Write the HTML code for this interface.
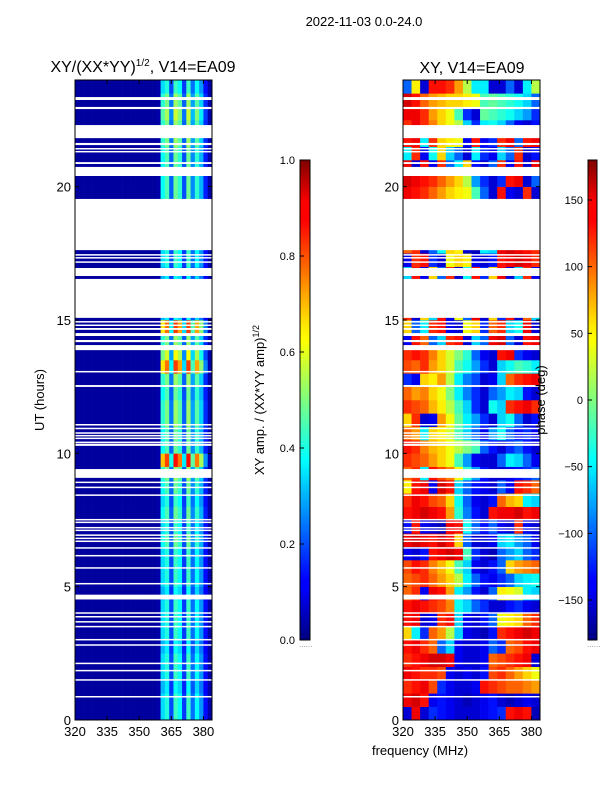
<!DOCTYPE html>
<html><head><meta charset="utf-8"><style>
html,body{margin:0;padding:0;background:#fff}
svg{display:block;font-family:"Liberation Sans",sans-serif}
</style></head><body>
<svg id="fig" width="600" height="800" viewBox="0 0 600 800">
<defs>
<linearGradient id="jet" x1="0" y1="1" x2="0" y2="0">
<stop offset="0" stop-color="#00007f"/><stop offset="0.11" stop-color="#0000ff"/><stop offset="0.125" stop-color="#0000ff"/>
<stop offset="0.34" stop-color="#00dbff"/><stop offset="0.375" stop-color="#00ffff"/><stop offset="0.5" stop-color="#7fff7f"/>
<stop offset="0.625" stop-color="#ffff00"/><stop offset="0.66" stop-color="#ffe500"/><stop offset="0.875" stop-color="#ff0000"/>
<stop offset="0.91" stop-color="#ff0000"/><stop offset="1" stop-color="#7f0000"/></linearGradient>
</defs>
<text x="364" y="26" font-size="13" text-anchor="middle">2022-11-03 0.0-24.0</text>
<text x="143" y="72" font-size="16" text-anchor="middle">XY/(XX*YY)<tspan font-size="10" dy="-6">1/2</tspan><tspan dy="6">, V14=EA09</tspan></text>
<text x="472" y="73" font-size="16" text-anchor="middle">XY, V14=EA09</text>
<g id="leftCells"></g>
<g id="rightCells"></g>
<g id="flags"></g>
<g id="axes"></g>
<rect x="300" y="160" width="10" height="480" fill="url(#jet)" stroke="#000" stroke-width="1"/>
<rect x="588" y="160" width="9" height="480" fill="url(#jet)" stroke="#000" stroke-width="1"/>
<g id="cbticks" font-size="11"></g>
<text x="299" y="647" font-size="8" fill="#888">......</text>
<text x="587" y="647" font-size="8" fill="#888">......</text>
<text transform="translate(264,400) rotate(-90)" font-size="13" text-anchor="middle">XY amp. / (XX*YY amp)<tspan font-size="9" dy="-5">1/2</tspan></text>
<text transform="translate(545,400) rotate(-90)" font-size="13" text-anchor="middle">phase (deg)</text>
<text transform="translate(44,400) rotate(-90)" font-size="13" text-anchor="middle">UT (hours)</text>
<text x="420" y="755" font-size="13" text-anchor="middle">frequency (MHz)</text>
</svg>
<script>
const freqMin=320, freqMax=384, hourMin=0, hourMax=24;
const xTicks=[320,335,350,365,380];
const yTicks=[0,5,10,15,20];
const ampTicks=[0.0,0.2,0.4,0.6,0.8,1.0];
const phaseTicks=[-150,-100,-50,0,50,100,150];
const ampChanShape=[0.03,0.03,0.03,0.03,0.03,0.03,0.03,0.03,0.03,0.03,0.03,0.03,0.03,0.03,0.03,0.03,0.03,0.03,0.03,0.04,0.38,0.45,0.22,0.48,0.42,0.2,0.48,0.26,0.42,0.3,0.15,0.04];
const ampRowLevel=[0.9,0.9,0.8,0.9,0.9,0.8,0.9,0.9,0.9,0.8,0.9,0.9,0.9,1.0,0.9,1.0,0.9,1.0,1.1,1.8,1.0,1.0,1.1,1.1,1.0,1.1,1.7,1.3,1.1,1.7,0.8,0.8,0.8,0.8,0.9,0.9,0.8,0.8,0.8,1.0,1.0,1.0,1.0,1.1,1.1,1.2,1.1,0.9];
const phaseRows=[
[-150,140,-150,-120,-130,-140,-150,-150,-150,-140,-130,-120,130,140,130,-160],
[140,150,130,-140,-130,-140,-150,-160,-150,-140,-130,-150,-160,-150,-140,-150],
[120,130,140,110,-120,-140,-150,-150,-140,130,120,110,100,100,90,80],
[140,130,120,120,110,-140,-150,-140,-150,-130,110,120,100,80,60,40],
[120,130,140,150,150,140,-140,-150,-150,-140,100,110,120,130,140,-150],
[130,140,120,100,-100,-60,-140,-150,-150,-140,-100,-120,100,110,130,140],
[60,-50,-120,100,80,20,-60,-140,-150,-160,-130,120,130,140,150,140],
[130,140,-150,-140,120,130,-60,-140,-150,-130,-100,40,50,60,100,120],
[130,140,130,120,110,90,-40,-60,-100,-120,-150,-150,-130,-120,-140,-150],
[100,120,-140,140,130,80,-50,-80,-130,-150,-100,50,40,30,-50,-60],
[100,110,120,100,80,60,20,-50,-100,-130,-140,-120,-100,-60,-50,-40],
[110,130,120,90,70,40,-20,-60,-140,-150,-130,-100,60,80,90,100],
[-140,-150,-130,130,140,150,140,-20,-120,-150,-160,-100,-80,-60,-100,-120],
[140,150,140,130,150,130,60,-100,-150,-150,-140,-60,-50,-80,-100,-140],
[-130,130,-140,-150,-160,140,130,-40,-100,-130,-100,-140,-150,120,-140,-150],
[130,140,150,140,130,80,-30,-90,-130,-150,130,140,140,150,130,140],
[120,140,130,110,100,60,-40,-100,-140,-150,-130,100,70,60,-50,-60],
[50,130,140,-140,150,130,-60,-100,-130,-140,-150,-100,-140,130,120,100],
[100,120,-50,130,110,90,40,-30,-80,-130,-150,-150,-140,-130,-120,-100],
[120,110,100,80,60,40,-20,-80,-140,-150,-150,-100,-50,-60,-100,-140],
[130,120,90,70,60,40,20,0,-20,-100,-130,-150,-120,-100,-130,-150],
[100,80,-50,60,50,30,-20,-60,-100,-140,-80,-40,-100,-130,-120,-140],
[60,120,-150,-140,80,40,-10,-50,-80,-120,-150,-60,-40,-100,-150,-130],
[120,110,100,70,50,20,-20,-60,-120,-150,-40,-60,120,130,140,120],
[100,80,90,60,40,0,-50,-90,-120,-150,-100,-80,-50,-60,-130,-150],
[-120,-140,60,50,80,20,-50,-90,-110,-150,-140,-60,100,120,130,140],
[110,100,120,80,60,30,-20,-40,-80,-120,-150,-60,-40,-20,-30,-50],
[120,130,120,90,60,30,0,-30,-100,-140,-150,130,140,-120,-140,-150],
[-140,130,100,-100,-60,120,130,-150,-60,-100,140,150,-100,-150,130,140],
[60,-100,-50,120,130,-140,-150,40,60,-120,100,120,-60,-40,140,-150],
[120,-150,60,-60,130,-140,40,-100,140,-150,60,-120,130,-150,100,-60],
[120,-150,60,-60,130,-140,40,-100,140,-150,60,-120,130,-150,100,-60],
[120,-150,60,-60,130,-140,40,-100,140,-150,60,-120,130,-150,100,-60],
[-60,130,-140,60,-100,120,-150,-40,130,-120,60,140,-150,-60,120,-140],
[-140,120,130,-120,-150,40,60,50,-140,-150,-130,130,140,150,140,120],
[100,120,-150,-100,-40,60,50,-150,-160,-50,-60,140,150,140,130,120],
[100,100,100,100,100,100,100,100,100,100,100,100,100,100,100,100],
[100,100,100,100,100,100,100,100,100,100,100,100,100,100,100,100],
[100,100,100,100,100,100,100,100,100,100,100,100,100,100,100,100],
[140,130,120,100,80,60,50,40,-20,-100,-150,130,-140,-150,120,-150],
[150,140,130,120,100,80,60,20,-80,-120,-150,-120,130,140,-150,-100],
[140,-150,130,-140,120,-100,-50,60,-130,-150,-100,120,-140,130,-150,140],
[-50,120,-140,-40,60,-60,-100,-150,-50,-120,-140,-60,-100,120,-150,-130],
[130,140,-50,120,60,50,40,-140,130,-140,-120,120,140,-100,130,140],
[120,140,120,90,60,40,20,-60,-120,-50,-40,-60,-100,-140,-150,-130],
[140,140,120,80,60,40,-20,-120,-150,-10,-20,-30,-40,-60,-80,-120],
[150,130,100,80,70,60,60,50,40,-20,-10,-20,-30,-40,-60,-100],
[-100,50,-150,130,130,120,80,20,-50,-50,-150,-150,-100,-150,-50,20]];
const flaggedHours=[[23.25,23.36],[22.91,22.99],[21.82,22.31],[21.56,21.64],[21.41,21.45],[21.30,21.34],[20.85,20.92],[20.40,20.74],[17.62,19.54],[17.44,17.47],[17.32,17.36],[17.16,17.20],[16.65,16.95],[15.08,16.54],[14.93,14.96],[14.80,14.83],[14.63,14.70],[14.40,14.51],[14.17,14.25],[13.87,14.06],[13.05,13.09],[12.49,12.56],[11.07,11.1],[10.92,10.96],[10.75,10.79],[10.65,10.69],[10.55,10.59],[10.39,10.44],[10.28,10.36],[9.08,9.41],[8.9,8.94],[8.7,8.75],[8.42,8.46],[7.5,7.54],[7.4,7.44],[7.2,7.24],[7.1,7.14],[6.92,6.96],[6.8,6.84],[6.7,6.73],[6.45,6.48],[6.15,6.19],[5.7,5.73],[5.1,5.14],[4.52,4.7],[4.0,4.04],[3.86,3.9],[3.68,3.71],[3.5,3.53],[3.0,3.04],[2.8,2.84],[2.12,2.15],[1.85,1.88],[1.5,1.53],[0.86,0.9]];

const NS="http://www.w3.org/2000/svg";
const L={x0:75,x1:212}, R={x0:403,x1:540}, Y0=720, Y1=80;
function xS(p,f){return p.x0+(f-freqMin)/(freqMax-freqMin)*(p.x1-p.x0);}
function yS(h){return Y0-(h-hourMin)/(hourMax-hourMin)*(Y0-Y1);}
function jet(v){v=Math.max(0,Math.min(1,v));
 const r=Math.max(0,Math.min(1,1.5-Math.abs(4*v-3))),g=Math.max(0,Math.min(1,1.5-Math.abs(4*v-2))),b=Math.max(0,Math.min(1,1.5-Math.abs(4*v-1)));
 return `rgb(${Math.round(r*255)},${Math.round(g*255)},${Math.round(b*255)})`;}
function mk(tag,attrs,parent){const e=document.createElementNS(NS,tag);for(const k in attrs)e.setAttribute(k,attrs[k]);parent.appendChild(e);return e;}
const lc=document.getElementById('leftCells'), rc=document.getElementById('rightCells');
const nRows=ampRowLevel.length, rowH=(hourMax-hourMin)/nRows;
const lw=(freqMax-freqMin)/ampChanShape.length;
for(let i=0;i<nRows;i++){
 for(let j=0;j<ampChanShape.length;j++){
  const s=ampChanShape[j]; const v=s<0.1?s:Math.min(1,s*ampRowLevel[i]);
  const x=xS(L,freqMin+j*lw), x2=xS(L,freqMin+(j+1)*lw);
  const r=mk('rect',{x:x,y:yS((i+1)*rowH),width:x2-x+0.3,height:yS(i*rowH)-yS((i+1)*rowH)+0.3,fill:jet(v)},lc);
  
  
 }
}
const pc=phaseRows[0].length, pw=(freqMax-freqMin)/pc, pRowH=(hourMax-hourMin)/phaseRows.length;
phaseRows.forEach((row,i)=>{row.forEach((v,j)=>{
  const x=xS(R,freqMin+j*pw), x2=xS(R,freqMin+(j+1)*pw);
  const r=mk('rect',{x:x,y:yS((i+1)*pRowH),width:x2-x+0.3,height:yS(i*pRowH)-yS((i+1)*pRowH)+0.3,fill:jet((v+180)/360)},rc);
  
  
});});
const fl=document.getElementById('flags');
flaggedHours.forEach(([a,b])=>{[L,R].forEach(p=>{
  const r=mk('rect',{x:p.x0,y:yS(b),width:p.x1-p.x0,height:Math.max(1.5,yS(a)-yS(b)),fill:'#fff'},fl);
  
  
});});
const ax=document.getElementById('axes');
[L,R].forEach((p,k)=>{
 const f=mk('rect',{x:p.x0,y:Y1,width:p.x1-p.x0,height:Y0-Y1,fill:'none',stroke:'#000','stroke-width':1},ax);
 
 
 xTicks.forEach(t=>{const x=xS(p,t);
  mk('line',{x1:x,x2:x,y1:Y0,y2:Y0-4,stroke:'#000'},ax);mk('line',{x1:x,x2:x,y1:Y1,y2:Y1+4,stroke:'#000'},ax);
  const tx=mk('text',{x:x,y:Y0+16,'font-size':13,'text-anchor':'middle'},ax);tx.textContent=t;
  
  });
 yTicks.forEach(t=>{const y=yS(t);
  mk('line',{x1:p.x0,x2:p.x0+4,y1:y,y2:y,stroke:'#000'},ax);mk('line',{x1:p.x1,x2:p.x1-4,y1:y,y2:y,stroke:'#000'},ax);
  const tx=mk('text',{x:p.x0-4,y:y+5,'font-size':13,'text-anchor':'end'},ax);tx.textContent=t;
  
  });
});
const cb=document.getElementById('cbticks');
ampTicks.forEach(t=>{const y=640-t*480;
 mk('line',{x1:300,x2:304,y1:y,y2:y,stroke:'#000'},cb);
 const tx=mk('text',{x:295,y:y+4,'text-anchor':'end'},cb);tx.textContent=t.toFixed(1);
 
 });
phaseTicks.forEach(t=>{const y=640-(t+180)/360*480;
 mk('line',{x1:588,x2:592,y1:y,y2:y,stroke:'#000'},cb);
 const tx=mk('text',{x:583,y:y+4,'text-anchor':'end'},cb);tx.textContent=t<0?'\u2212'+(-t):t;
 
 });
</script>
</body></html>
